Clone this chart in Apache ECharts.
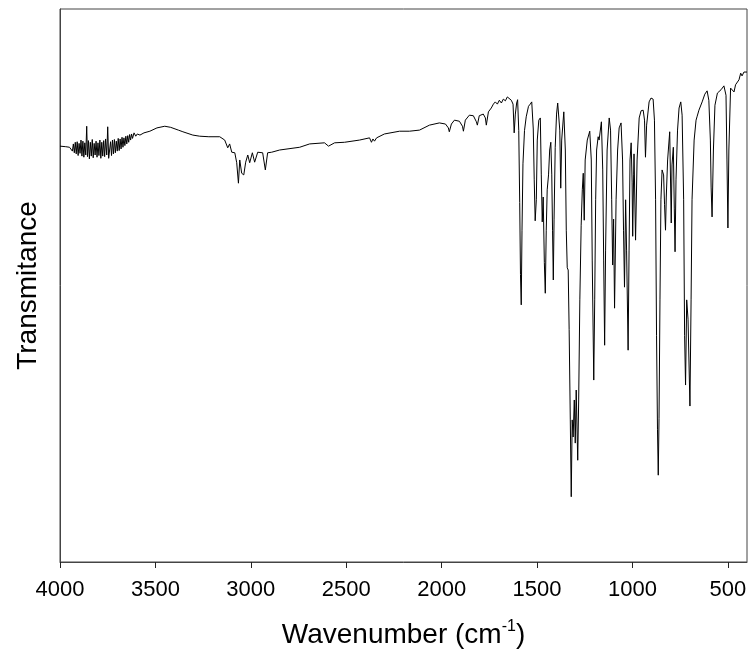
<!DOCTYPE html>
<html>
<head>
<meta charset="utf-8">
<title>IR spectrum</title>
<script src="https://cdn.jsdelivr.net/npm/echarts@6.0.0/dist/echarts.min.js"></script>
<style>
  html, body {margin: 0; padding: 0; background: #fff;}
  #chart {width: 749px; height: 652px;}
</style>
</head>
<body>
<div id="chart"></div>
<script>
const wavenumbers = [
  4000, 3970, 3950, 3940, 3935, 3930, 3925, 3920, 3915, 3910,
  3905, 3900, 3895, 3890, 3885, 3880, 3875, 3870, 3865, 3860,
  3856, 3851, 3846, 3841, 3836, 3831, 3826, 3821, 3816, 3811,
  3806, 3801, 3796, 3791, 3786, 3781, 3776, 3771, 3766, 3761,
  3755, 3750, 3745, 3740, 3735, 3730, 3725, 3720, 3715, 3710,
  3705, 3700, 3695, 3690, 3685, 3680, 3675, 3670, 3665, 3660,
  3655, 3650, 3645, 3640, 3635, 3630, 3625, 3620, 3612, 3603,
  3595, 3581, 3560, 3529, 3492, 3451, 3420, 3380, 3356, 3304,
  3268, 3220, 3163, 3137, 3121, 3111, 3100, 3084, 3074, 3065,
  3058, 3048, 3037, 3027, 3016, 3006, 2992, 2980, 2964, 2938,
  2924, 2912, 2891, 2849, 2744, 2692, 2614, 2593, 2561, 2509,
  2430, 2378, 2368, 2360, 2352, 2341, 2300, 2221, 2169, 2116,
  2064, 2012, 1980, 1965, 1960, 1949, 1933, 1907, 1891, 1886,
  1876, 1855, 1834, 1818, 1813, 1803, 1782, 1771, 1766, 1755,
  1740, 1729, 1719, 1708, 1698, 1687, 1677, 1666, 1656, 1646,
  1635, 1626, 1620, 1614, 1607, 1602, 1596, 1591, 1587, 1583,
  1579, 1574, 1566, 1557, 1545, 1536, 1528, 1520, 1515, 1510,
  1504, 1499, 1491, 1483, 1478, 1473, 1468, 1462, 1457, 1452,
  1447, 1440, 1434, 1428, 1423, 1419, 1415, 1411, 1405, 1398,
  1392, 1381, 1376, 1371, 1360, 1352, 1347, 1342, 1337, 1332,
  1326, 1321, 1316, 1311, 1305, 1300, 1295, 1287, 1282, 1276,
  1269, 1263, 1258, 1253, 1248, 1237, 1224, 1216, 1211, 1203,
  1198, 1193, 1188, 1180, 1175, 1163, 1156, 1151, 1146, 1141,
  1133, 1122, 1115, 1109, 1104, 1099, 1094, 1086, 1078, 1070,
  1060, 1052, 1047, 1042, 1036, 1031, 1023, 1018, 1013, 1007,
  1002, 999, 994, 992, 984, 976, 965, 955, 944, 937,
  932, 926, 913, 903, 892, 885, 879, 874, 869, 865,
  861, 856, 851, 845, 837, 832, 827, 823, 816, 805,
  797, 793, 786, 781, 777, 772, 764, 756, 747, 740,
  732, 727, 722, 716, 709, 699, 693, 688, 677, 667,
  662, 652, 635, 621, 609, 600, 592, 588, 583, 576,
  568, 555, 536, 521, 510, 505, 500, 495, 486, 477,
  468, 460, 453, 442, 433, 426, 416, 406, 400
]

// transmittance (arbitrary 0-100 scale, no ticks shown on the original)
const transmittance = [
  75.2, 75.1, 75.0, 75.0, 74.3, 75.6, 74.0, 75.9, 73.8, 76.0,
  73.5, 75.7, 73.9, 76.3, 73.4, 76.1, 73.2, 75.8, 73.6, 78.8,
  73.3, 76.2, 72.9, 75.9, 73.4, 76.4, 73.1, 75.7, 73.6, 76.1,
  73.2, 75.8, 73.5, 76.3, 73.0, 75.9, 73.4, 76.2, 73.3, 76.5,
  73.6, 78.7, 73.0, 72.8, 76.0, 73.5, 76.3, 73.8, 76.4, 74.0,
  76.1, 74.3, 76.6, 74.4, 76.5, 74.7, 76.8, 75.0, 76.7, 75.3,
  77.0, 75.6, 77.1, 75.9, 77.3, 76.3, 77.4, 76.6, 77.6, 77.0,
  77.4, 77.2, 77.6, 77.9, 78.5, 78.8, 78.6, 78.1, 77.8, 77.2,
  77.0, 76.9, 76.9, 76.3, 74.9, 75.6, 74.1, 74.0, 72.2, 68.5,
  72.7, 70.3, 70.0, 72.3, 73.6, 72.2, 74.0, 72.3, 74.1, 74.0,
  70.9, 74.0, 74.1, 74.5, 75.0, 75.6, 75.8, 75.2, 75.8, 75.9,
  76.3, 76.7, 75.9, 76.5, 76.1, 76.7, 77.4, 77.9, 77.9, 78.1,
  79.0, 79.4, 79.2, 78.5, 77.8, 79.2, 79.9, 79.7, 78.8, 77.9,
  79.9, 80.8, 80.7, 79.6, 79.0, 80.7, 81.0, 80.3, 79.0, 81.4,
  82.1, 82.8, 83.2, 82.8, 83.5, 83.0, 83.7, 83.4, 84.1, 84.3,
  83.5, 82.8, 77.6, 81.0, 83.0, 83.6, 78.0, 65.0, 52.0, 46.5,
  60.0, 72.0, 78.0, 80.5, 82.4, 82.8, 83.2, 78.3, 69.1, 61.7,
  65.5, 76.3, 79.9, 80.3, 70.0, 61.5, 66.0, 54.2, 48.6, 60.0,
  67.3, 70.0, 74.5, 75.9, 70.0, 60.0, 51.0, 62.0, 75.0, 81.0,
  83.0, 78.1, 67.6, 76.3, 81.4, 74.5, 60.0, 53.2, 52.8, 42.0,
  25.7, 11.8, 25.7, 22.6, 29.3, 21.5, 31.1, 18.4, 29.3, 47.4,
  60.9, 67.3, 70.3, 61.8, 72.7, 76.3, 77.9, 72.7, 54.6, 32.9,
  47.4, 65.5, 74.5, 76.9, 76.3, 79.6, 70.9, 54.6, 39.2, 56.4,
  74.5, 80.3, 78.1, 65.5, 53.7, 62.0, 45.9, 65.5, 74.5, 78.5,
  79.4, 72.7, 60.0, 49.7, 65.5, 56.4, 38.3, 56.4, 72.7, 75.8,
  68.7, 58.9, 70.0, 73.8, 58.2, 72.7, 80.3, 81.6, 81.7, 79.9,
  73.2, 79.0, 83.2, 83.9, 83.7, 79.9, 65.5, 41.0, 23.9, 15.7,
  25.9, 47.4, 65.5, 70.9, 70.0, 64.6, 60.0, 66.0, 72.7, 77.8,
  61.3, 71.8, 75.0, 64.0, 56.1, 69.1, 78.1, 82.1, 83.2, 80.8,
  65.5, 41.0, 32.0, 47.4, 43.9, 28.2, 47.4, 65.5, 76.3, 79.9,
  80.5, 81.7, 83.2, 84.6, 85.2, 83.5, 76.3, 67.8, 62.4, 74.5,
  82.6, 84.8, 85.4, 86.1, 84.4, 72.7, 60.4, 74.5, 85.7, 85.4,
  85.0, 86.3, 86.1, 87.2, 88.4, 87.9, 88.6, 88.4, 88.6
]

const tickValues = [4000, 3500, 3000, 2500, 2000, 1500, 1000, 500]

const spectrum = wavenumbers.map((w, i) => [w, transmittance[i]])

const chart = echarts.init(document.getElementById('chart'), null, {renderer: 'canvas'})

const fontFamily = 'Arial, "Liberation Sans", sans-serif'

chart.setOption({
  animation: false,
  backgroundColor: '#fff',
  grid: {
    left: 60,
    right: 2,
    top: 9,
    bottom: 90,
    outerBoundsMode: 'none',
    containLabel: false,
    show: true,
    borderColor: '#444',
    borderWidth: 1
  },
  xAxis: {
    type: 'value',
    min: 400,
    max: 4000,
    inverse: true,
    name: '{a|Wavenumber (cm}{sup|-1}{a|)}',
    nameLocation: 'middle',
    nameGap: 57,
    nameTextStyle: {
      rich: {
        a: {fontSize: 28, fontFamily: fontFamily, color: '#000', lineHeight: 32},
        sup: {fontSize: 16, fontFamily: fontFamily, color: '#000', verticalAlign: 'top', lineHeight: 14}
      }
    },
    axisLine: {show: true, lineStyle: {color: '#444', width: 1}},
    axisTick: {show: true, length: 6, lineStyle: {color: '#222'}, customValues: tickValues},
    axisLabel: {
      customValues: tickValues,
      formatter: v => String(v),
      margin: 17,
      fontSize: 22,
      fontFamily: fontFamily,
      color: '#000'
    },
    splitLine: {show: false}
  },
  yAxis: {
    type: 'value',
    min: 0,
    max: 100,
    name: 'Transmitance',
    nameLocation: 'middle',
    nameGap: 18,
    nameTextStyle: {fontSize: 28, fontFamily: fontFamily, color: '#000'},
    axisLine: {show: true, lineStyle: {color: '#444', width: 1}},
    axisTick: {show: false},
    axisLabel: {show: false},
    splitLine: {show: false}
  },
  series: [{
    type: 'line',
    data: spectrum,
    showSymbol: false,
    symbol: 'none',
    sampling: null,
    lineStyle: {color: '#000', width: 1},
    emphasis: {disabled: true}
  }]
})
</script>
</body>
</html>
